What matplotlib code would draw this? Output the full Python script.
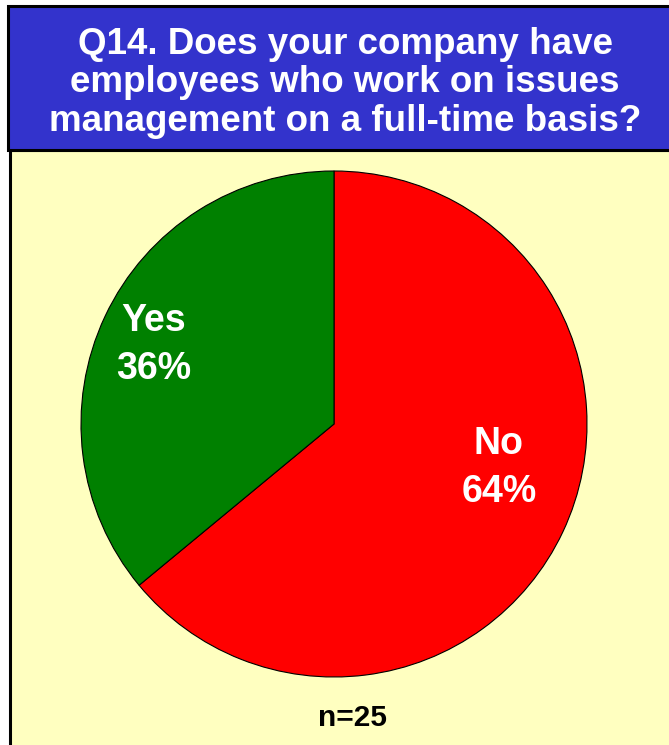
import matplotlib.pyplot as plt
from matplotlib.patches import Rectangle

plt.rcParams['font.family'] = ['Liberation Sans', 'DejaVu Sans']

# survey answers
labels = ["No", "Yes"]
shares = [64, 36]
colors = ["#FF0000", "#008000"]
n_resp = 25
title = "Q14. Does your company have\nemployees who work on issues\nmanagement on a full-time basis?"

W, H = 669, 745
fig = plt.figure(figsize=(W / 100, H / 100), dpi=100)
ax = fig.add_axes([0, 0, 1, 1])
ax.set_xlim(0, W)
ax.set_ylim(0, H)
ax.set_aspect('equal')
ax.axis('off')

# yellow panel and blue header (y measured up from the bottom)
ax.add_patch(Rectangle((10, -10), W + 20, H - 150 + 10, facecolor="#FFFFC0",
                       edgecolor="black", linewidth=2.2, zorder=0))
ax.add_patch(Rectangle((8, H - 150), W + 20, 144, facecolor="#3333CC",
                       edgecolor="black", linewidth=2.2, zorder=1))
ax.text(345, H - 83, title, ha='center', va='center', color='white',
        fontsize=26.5, fontweight='bold', linespacing=1.12, zorder=2)

cx, cy, r = 334, H - 424, 253
wedges, _ = ax.pie(shares, colors=colors, startangle=90, counterclock=False,
                   center=(cx, cy), radius=r,
                   wedgeprops=dict(edgecolor='black', linewidth=0.8))
for w in wedges:
    w.set_zorder(3)
ax.set_xlim(0, W)
ax.set_ylim(0, H)

ax.text(499, H - 468, f"{labels[0]}\n{shares[0]}%", ha='center', va='center',
        color='white', fontsize=27, fontweight='bold', linespacing=1.45, zorder=4)
ax.text(154, H - 345, f"{labels[1]}\n{shares[1]}%", ha='center', va='center',
        color='white', fontsize=27, fontweight='bold', linespacing=1.45, zorder=4)

ax.text(352, H - 718, f"n={n_resp}", ha='center', va='center', color='black',
        fontsize=21.5, fontweight='bold', zorder=4)

fig.savefig("out.png", dpi=100, facecolor='white')
